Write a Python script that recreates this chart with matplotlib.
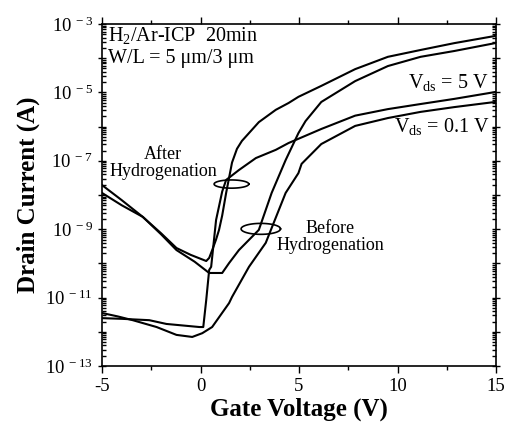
import numpy as np
import matplotlib
matplotlib.use("Agg")
import matplotlib.pyplot as plt
import matplotlib.ticker as ticker

plt.rcParams['font.family'] = ['Liberation Serif', 'DejaVu Serif']
plt.rcParams['mathtext.fontset'] = 'custom'
plt.rcParams['mathtext.rm'] = 'Liberation Serif'
plt.rcParams['mathtext.it'] = 'Liberation Serif:italic'

# After hydrogenation, Vds = 5 V  (gate voltage, log10 of current)
vg_after_5 = [-5, -4, -2.93, -2, -1.22, -0.5, 0.29, 0.44, 0.6, 0.79, 0.94, 1.1, 1.3, 1.6,
              1.85, 2.1, 2.96, 3.82, 4.47, 4.97, 6.13, 7.85, 9.51, 11.17, 12.88, 14.95]
log_after_5 = [-7.94, -8.3, -8.64, -9.12, -9.55, -9.75, -9.93, -9.84, -9.6, -9.3, -9.02, -8.6,
               -7.94, -7.05, -6.65, -6.42, -5.87, -5.51, -5.31, -5.13, -4.81, -4.32, -3.96,
               -3.76, -3.56, -3.35]

# After hydrogenation, Vds = 0.1 V
vg_after_01 = [-5, -4, -2.6, -1.73, -0.06, 0.14, 0.29, 0.44, 0.54, 0.79, 1.1, 1.3, 1.95,
               2.81, 3.82, 4.47, 6.13, 7.85, 9.5, 11.17, 12.88, 14.95]
log_after_01 = [-11.6, -11.62, -11.66, -11.77, -11.86, -11.86, -11.07, -10.19, -10.1,
                -8.73, -7.9, -7.56, -7.27, -6.92, -6.68, -6.48, -6.07, -5.68, -5.49,
                -5.34, -5.19, -4.99]

# Before hydrogenation, Vds = 5 V
vg_before_5 = [-5, -4, -2.93, -2, -1.22, -0.3, 0.44, 1.1, 1.45, 1.95, 2.96, 3.61, 4.32,
               4.97, 5.33, 6.13, 7.85, 9.51, 11.17, 12.88, 14.95]
log_before_5 = [-7.71, -8.15, -8.64, -9.15, -9.61, -9.95, -10.28, -10.28, -9.99, -9.61,
                -9.02, -7.94, -6.98, -6.19, -5.84, -5.28, -4.67, -4.23, -3.96, -3.79, -3.56]

# Before hydrogenation, Vds = 0.1 V
vg_before_01 = [-5, -4.2, -3.44, -2.23, -1.22, -0.42, 0.09, 0.59, 1.45, 1.6, 2.46, 3.31,
                4.32, 4.97, 5.13, 6.13, 7.85, 9.51, 11.17, 12.88, 14.95]
log_before_01 = [-11.45, -11.55, -11.66, -11.86, -12.09, -12.15, -12.04, -11.86, -11.16,
                 -10.98, -10.1, -9.4, -7.94, -7.36, -7.09, -6.51, -5.98, -5.75, -5.57,
                 -5.43, -5.28]

fig = plt.figure(figsize=(5.06, 4.26), dpi=100)
ax = fig.add_axes([0.2016, 0.1408, 0.7787, 0.8029])

for vg, lg in [(vg_after_5, log_after_5), (vg_after_01, log_after_01),
               (vg_before_5, log_before_5), (vg_before_01, log_before_01)]:
    ax.plot(vg, 10.0 ** np.array(lg), color='black', lw=1.5)


def ring(xc, lyc, a, b):
    t = np.linspace(0, 2 * np.pi, 100)
    ax.plot(xc + a * np.cos(t), 10.0 ** (lyc + b * np.sin(t)), color='black', lw=1.2)


ring(1.57, -7.68, 0.88, 0.12)
ring(3.06, -8.99, 1.0, 0.16)

ax.set_yscale('log')
ax.set_xlim(-5, 15)
ax.set_ylim(1e-13, 1e-3)

ax.xaxis.set_major_locator(ticker.MultipleLocator(5))
ax.xaxis.set_minor_locator(ticker.MultipleLocator(2.5))
ax.yaxis.set_major_locator(ticker.LogLocator(base=10, numticks=20))
ax.yaxis.set_minor_locator(ticker.LogLocator(base=10, subs=np.arange(2, 10), numticks=20))
ax.yaxis.set_minor_formatter(ticker.NullFormatter())


def ylab(v, pos):
    e = int(round(np.log10(v)))
    if e % 2 == 0:
        return ''
    return r'$\mathregular{10^{\ %d}}$' % e


ax.yaxis.set_major_formatter(ticker.FuncFormatter(ylab))
ax.xaxis.set_major_formatter(ticker.FuncFormatter(lambda v, p: '%d' % v))

ax.tick_params(axis='both', which='both', top=True, right=True, labelsize=13.5, width=1)
ax.tick_params(axis='x', which='major', direction='out', length=5)
ax.tick_params(axis='x', which='minor', direction='out', length=3)
ax.tick_params(axis='y', which='major', direction='inout', length=6)
ax.tick_params(axis='y', which='minor', direction='in', length=3)
for s in ax.spines.values():
    s.set_linewidth(1.2)

ax.set_xlabel('Gate Voltage (V)', fontsize=18, fontweight='bold', labelpad=2)
ax.set_ylabel('Drain Current (A)', fontsize=18, fontweight='bold', labelpad=4)

ax.text(0.016, 0.965, r'H$_2$/Ar-ICP  20min', transform=ax.transAxes, fontsize=14.5,
        va='center', ha='left')
ax.text(0.016, 0.898, 'W/L = 5 \u03bcm/3 \u03bcm', transform=ax.transAxes, fontsize=14.5,
        va='center', ha='left')
ax.text(0.155, 0.594, 'After\nHydrogenation', transform=ax.transAxes, fontsize=13,
        ha='center', va='center', linespacing=1.0)
ax.text(0.58, 0.377, 'Before\nHydrogenation', transform=ax.transAxes, fontsize=13,
        ha='center', va='center', linespacing=1.0)
ax.text(0.98, 0.83, r'V$_{\mathregular{ds}}$ = 5 V', transform=ax.transAxes, fontsize=14.5,
        ha='right', va='center')
ax.text(0.985, 0.70, r'V$_{\mathregular{ds}}$ = 0.1 V', transform=ax.transAxes, fontsize=14.5,
        ha='right', va='center')

fig.savefig('out.png', dpi=100)
